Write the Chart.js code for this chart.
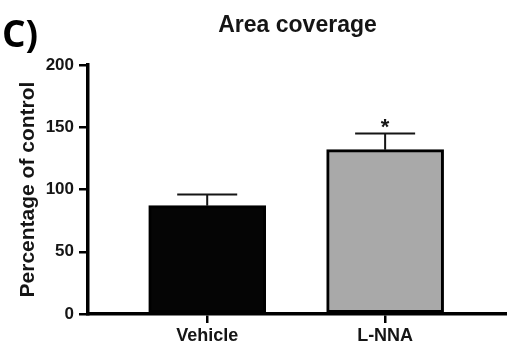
<!DOCTYPE html>
<html>
<head>
<meta charset="utf-8">
<script src="https://cdn.jsdelivr.net/npm/chart.js@4/dist/chart.umd.min.js"></script>
<style>
  html, body { margin: 0; padding: 0; background: #ffffff; }
  #wrap { width: 507px; height: 353px; position: relative; }
</style>
</head>
<body>
<div id="wrap"><canvas id="chart"></canvas></div>
<script>
// Group means (% of control), their error (SEM) and significance marks
const groups = ['Vehicle', 'L-NNA'];
const means = [87, 132];
const sem = [9, 13];
const marks = ['', '*'];
const barColors = ['#050505', '#a9a9a9'];
const yTicks = [0, 50, 100, 150, 200];
const chartTitle = 'Area coverage';
const panelLabel = 'C)';
const yLabel = 'Percentage of control';

const FONT = '"Liberation Sans", Arial, Helvetica, sans-serif';
const INK = '#151515';

// Error bars (upper whisker + cap) and significance stars above them
const errorBars = {
  id: 'errorBars',
  afterDatasetsDraw(chart) {
    const { ctx, scales: { x, y } } = chart;
    ctx.save();
    ctx.strokeStyle = INK;
    ctx.lineWidth = 2;
    means.forEach((m, i) => {
      const cx = x.getPixelForValue(i + 1);
      const yTop = y.getPixelForValue(m + sem[i]);
      const yBar = y.getPixelForValue(m);
      ctx.beginPath();
      ctx.moveTo(cx, yBar);
      ctx.lineTo(cx, yTop);
      ctx.moveTo(cx - 30, yTop);
      ctx.lineTo(cx + 30, yTop);
      ctx.stroke();
      if (marks[i]) {
        ctx.fillStyle = INK;
        ctx.font = 'bold 22px ' + FONT;
        ctx.textAlign = 'center';
        ctx.textBaseline = 'middle';
        ctx.fillText(marks[i], cx, yTop - 6);
      }
    });
    ctx.restore();
  }
};

// Title centred over the plot area, plus the panel letter
const headings = {
  id: 'headings',
  afterDraw(chart) {
    const { ctx, chartArea } = chart;
    ctx.save();
    ctx.fillStyle = INK;
    ctx.textBaseline = 'alphabetic';
    ctx.textAlign = 'center';
    ctx.font = 'bold 23px ' + FONT;
    ctx.fillText(chartTitle, (chartArea.left + chartArea.right) / 2, 32);
    ctx.textAlign = 'left';
    ctx.fillStyle = '#000';
    ctx.font = 'bold 37px "Open Sans", Lato, sans-serif';
    ctx.fillText(panelLabel, 2, 47);
    ctx.restore();
  }
};

new Chart(document.getElementById('chart'), {
  type: 'bar',
  data: {
    datasets: [{
      data: groups.map((g, i) => ({ x: i + 1, y: means[i] })),
      backgroundColor: barColors,
      borderColor: '#000',
      borderWidth: 3,
      borderSkipped: false,
      barThickness: 117
    }]
  },
  options: {
    responsive: true,
    maintainAspectRatio: false,
    animation: false,
    layout: { padding: { top: 65, right: 0, bottom: 0, left: 0 } },
    plugins: {
      legend: { display: false },
      tooltip: { enabled: false },
      title: { display: false }
    },
    scales: {
      x: {
        type: 'linear',
        offset: false,
        bounds: 'ticks',
        min: 0.33,
        max: 2.685,
        afterBuildTicks(axis) {
          axis.ticks = groups.map((g, i) => ({ value: i + 1 }));
        },
        afterFit(axis) { axis.height = 39; },
        ticks: {
          callback: (v) => groups[v - 1],
          color: INK,
          font: { family: FONT, size: 18, weight: 'bold' },
          padding: 2,
          maxRotation: 0,
          autoSkip: false
        },
        grid: {
          display: true,
          offset: false,
          drawOnChartArea: false,
          drawTicks: true,
          tickLength: 9,
          lineWidth: 2.5,
          color: '#000'
        },
        border: { display: true, color: '#000', width: 3.5 }
      },
      y: {
        min: 0,
        max: 200,
        afterBuildTicks(axis) {
          axis.ticks = yTicks.map(v => ({ value: v }));
        },
        afterFit(axis) { axis.width = 88; },
        ticks: {
          color: INK,
          font: { family: FONT, size: 17, weight: 'bold' },
          padding: 5
        },
        grid: {
          display: true,
          drawOnChartArea: false,
          drawTicks: true,
          tickLength: 9,
          lineWidth: 2.5,
          color: '#000'
        },
        border: { display: true, color: '#000', width: 3.5 },
        title: {
          display: true,
          text: yLabel,
          color: INK,
          font: { family: FONT, size: 21, weight: 'bold' },
          padding: { top: 16, bottom: 0 }
        }
      }
    }
  },
  plugins: [errorBars, headings]
});
</script>
</body>
</html>
